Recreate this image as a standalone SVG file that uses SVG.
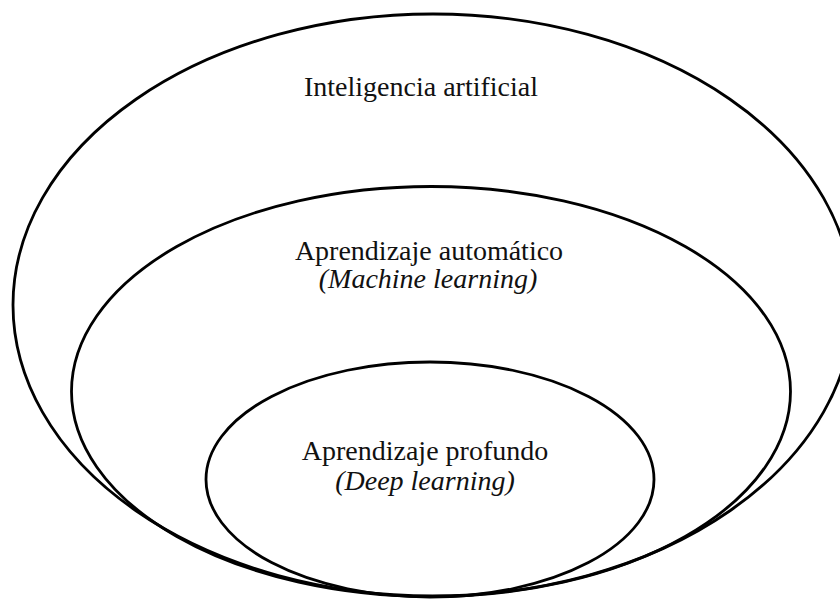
<svg xmlns="http://www.w3.org/2000/svg" width="840" height="599" viewBox="0 0 840 599">
<style>
.e{fill:none;stroke:#000;stroke-width:2.8}
.t{font-family:"Liberation Serif","Times New Roman",serif;font-size:28px;fill:#111;text-anchor:middle}
.i{font-style:italic}
</style>
<rect width="840" height="599" fill="#fff"/>
<g id="ia">
<ellipse class="e" cx="433" cy="305" rx="420" ry="291"/>
<text class="t" x="421" y="96">Inteligencia artificial</text>
</g>
<g id="ml">
<ellipse class="e" cx="431" cy="391.5" rx="359.5" ry="205"/>
<text class="t" x="429" y="260">Aprendizaje automático</text>
<text class="t i" x="428" y="288">(Machine learning)</text>
</g>
<g id="dl">
<ellipse class="e" cx="430" cy="479.5" rx="224" ry="117.5"/>
<text class="t" x="425" y="460">Aprendizaje profundo</text>
<text class="t i" x="425" y="490">(Deep learning)</text>
</g>
<g id="connectors"/>
</svg>
